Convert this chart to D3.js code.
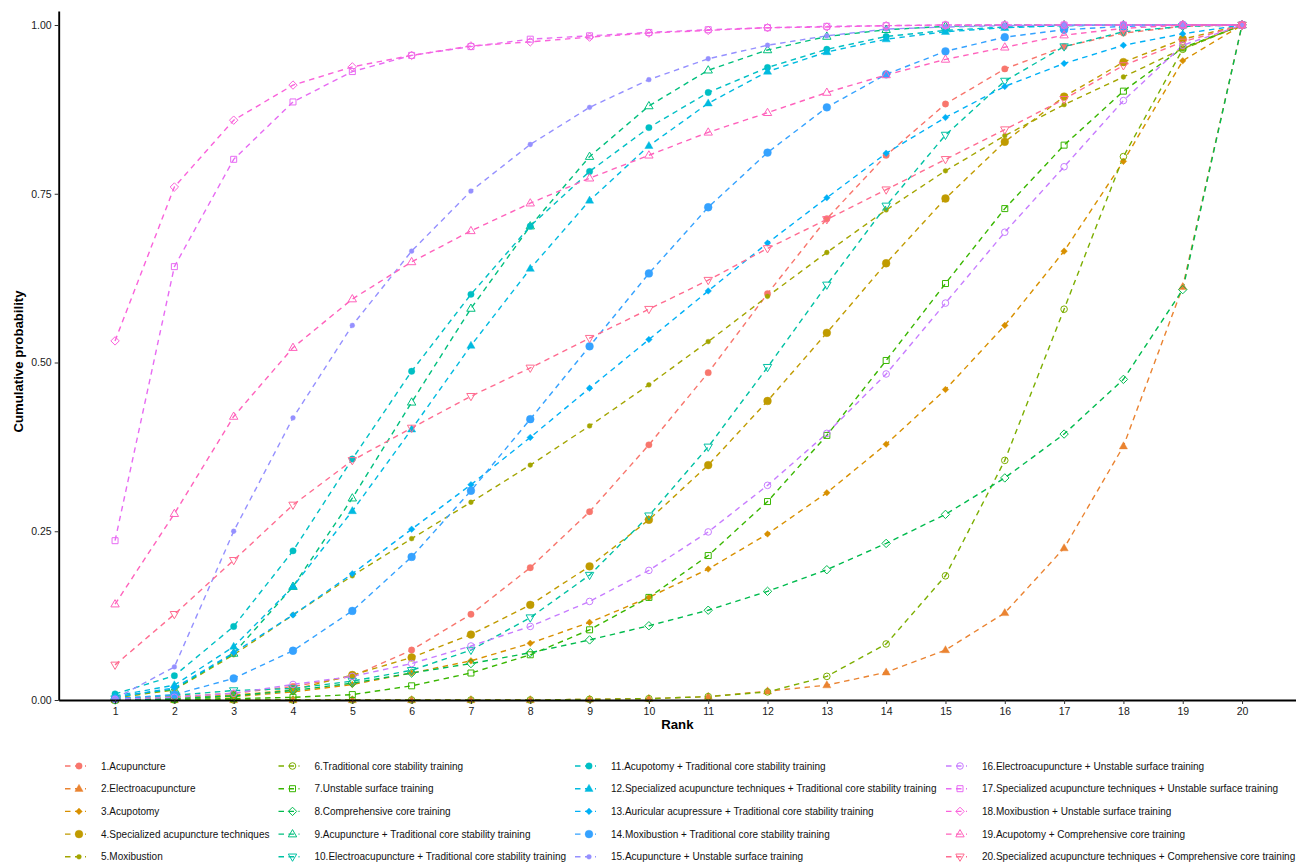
<!DOCTYPE html>
<html>
<head>
<meta charset="utf-8">
<script src="https://cdn.jsdelivr.net/npm/d3@7"></script>
<style>
  body { margin: 0; background: #fff; }
  svg { display: block; font-family: "Liberation Sans", Arial, Helvetica, sans-serif; }
</style>
</head>
<body>
<svg id="chart" width="1296" height="863"></svg>
<script>
// Ranks on the x axis
const ranks = d3.range(1, 21);

// Treatment names (legend order)
const seriesNames = [
  "1.Acupuncture",
  "2.Electroacupuncture",
  "3.Acupotomy",
  "4.Specialized acupuncture techniques",
  "5.Moxibustion",
  "6.Traditional core stability training",
  "7.Unstable surface training",
  "8.Comprehensive core training",
  "9.Acupuncture + Traditional core stability training",
  "10.Electroacupuncture + Traditional core stability training",
  "11.Acupotomy + Traditional core stability training",
  "12.Specialized acupuncture techniques + Traditional core stability training",
  "13.Auricular acupressure + Traditional core stability training",
  "14.Moxibustion + Traditional core stability training",
  "15.Acupuncture + Unstable surface training",
  "16.Electroacupuncture + Unstable surface training",
  "17.Specialized acupuncture techniques + Unstable surface training",
  "18.Moxibustion + Unstable surface training",
  "19.Acupotomy + Comprehensive core training",
  "20.Specialized acupuncture techniques + Comprehensive core training"
];

// Cumulative ranking probabilities, rank 1..20
const s1  = [0.002, 0.005, 0.010, 0.020, 0.035, 0.074, 0.127, 0.196, 0.279, 0.378, 0.485, 0.602, 0.713, 0.807, 0.883, 0.935, 0.968, 0.988, 0.998, 1];
const s2  = [0.000, 0.000, 0.000, 0.000, 0.000, 0.000, 0.000, 0.000, 0.001, 0.002, 0.005, 0.013, 0.022, 0.041, 0.074, 0.129, 0.225, 0.376, 0.612, 1];
const s3  = [0.000, 0.002, 0.005, 0.012, 0.023, 0.040, 0.058, 0.084, 0.115, 0.152, 0.194, 0.246, 0.307, 0.379, 0.460, 0.555, 0.665, 0.798, 0.947, 1];
const s4  = [0.001, 0.004, 0.007, 0.015, 0.037, 0.063, 0.097, 0.141, 0.198, 0.267, 0.348, 0.443, 0.544, 0.647, 0.743, 0.827, 0.894, 0.945, 0.979, 1];
const s5  = [0.003, 0.015, 0.067, 0.126, 0.184, 0.239, 0.293, 0.348, 0.406, 0.467, 0.531, 0.598, 0.663, 0.726, 0.784, 0.836, 0.882, 0.923, 0.965, 1];
const s6  = [0.000, 0.000, 0.000, 0.000, 0.000, 0.000, 0.000, 0.000, 0.001, 0.002, 0.005, 0.012, 0.035, 0.083, 0.184, 0.355, 0.579, 0.805, 0.964, 1];
const s7  = [0.000, 0.001, 0.002, 0.004, 0.008, 0.021, 0.040, 0.067, 0.104, 0.152, 0.214, 0.294, 0.392, 0.503, 0.617, 0.728, 0.822, 0.902, 0.966, 1];
const s8  = [0.000, 0.002, 0.006, 0.014, 0.025, 0.040, 0.054, 0.070, 0.089, 0.110, 0.133, 0.161, 0.193, 0.232, 0.275, 0.329, 0.394, 0.475, 0.608, 1];
const s9  = [0.005, 0.016, 0.069, 0.168, 0.299, 0.441, 0.580, 0.702, 0.805, 0.880, 0.933, 0.963, 0.983, 0.993, 0.998, 1, 1, 1, 1, 1];
const s10 = [0.002, 0.007, 0.014, 0.017, 0.028, 0.044, 0.074, 0.122, 0.185, 0.273, 0.375, 0.493, 0.615, 0.732, 0.837, 0.917, 0.968, 0.990, 0.998, 1];
const s11 = [0.009, 0.036, 0.109, 0.221, 0.357, 0.487, 0.601, 0.702, 0.783, 0.848, 0.900, 0.937, 0.964, 0.983, 0.992, 0.997, 0.999, 1, 1, 1];
const s12 = [0.006, 0.022, 0.079, 0.168, 0.280, 0.401, 0.525, 0.639, 0.740, 0.821, 0.884, 0.931, 0.960, 0.979, 0.990, 0.996, 0.999, 1, 1, 1];
const s13 = [0.004, 0.018, 0.070, 0.126, 0.187, 0.253, 0.319, 0.389, 0.462, 0.534, 0.606, 0.677, 0.744, 0.810, 0.863, 0.909, 0.943, 0.970, 0.987, 1];
const s14 = [0.002, 0.008, 0.032, 0.073, 0.132, 0.212, 0.310, 0.416, 0.524, 0.632, 0.730, 0.811, 0.878, 0.927, 0.961, 0.982, 0.993, 0.998, 1, 1];
const s15 = [0.002, 0.049, 0.250, 0.418, 0.555, 0.665, 0.754, 0.823, 0.878, 0.919, 0.950, 0.970, 0.984, 0.994, 0.997, 0.999, 1, 1, 1, 1];
const s16 = [0.001, 0.004, 0.010, 0.023, 0.035, 0.054, 0.080, 0.109, 0.146, 0.192, 0.249, 0.318, 0.395, 0.483, 0.588, 0.693, 0.790, 0.888, 0.970, 1];
const s17 = [0.236, 0.642, 0.801, 0.886, 0.931, 0.955, 0.968, 0.979, 0.984, 0.989, 0.993, 0.996, 0.998, 0.999, 1, 1, 1, 1, 1, 1];
const s18 = [0.532, 0.760, 0.859, 0.911, 0.938, 0.955, 0.969, 0.975, 0.982, 0.988, 0.992, 0.996, 0.997, 0.999, 1, 1, 1, 1, 1, 1];
const s19 = [0.142, 0.276, 0.420, 0.522, 0.594, 0.649, 0.695, 0.736, 0.773, 0.807, 0.841, 0.870, 0.900, 0.926, 0.949, 0.967, 0.985, 0.995, 1, 1];
const s20 = [0.052, 0.127, 0.207, 0.289, 0.355, 0.403, 0.450, 0.492, 0.536, 0.579, 0.622, 0.669, 0.712, 0.756, 0.801, 0.845, 0.890, 0.940, 0.975, 1];

const seriesValues = [s1, s2, s3, s4, s5, s6, s7, s8, s9, s10, s11, s12, s13, s14, s15, s16, s17, s18, s19, s20];

// Hue palette, one colour per treatment
const seriesColors = [
  "#F8766D", "#EA8331", "#D89000", "#C09B00", "#A3A500",
  "#7CAE00", "#39B600", "#00BB4E", "#00BF7D", "#00C1A3",
  "#00BFC4", "#00BAE0", "#00B0F6", "#35A2FF", "#9590FF",
  "#C77CFF", "#E76BF3", "#FA62DB", "#FF62BC", "#FF6C91"
];

// Point shapes (R pch codes), cycling through ten shapes
const seriesShapes = [16, 17, 18, 19, 20, 1, 0, 5, 2, 6, 16, 17, 18, 19, 20, 1, 0, 5, 2, 6];

const yTicks = [0, 0.25, 0.5, 0.75, 1];
const xTitle = "Rank";
const yTitle = "Cumulative probability";

// ---- layout ----
const svg = d3.select("#chart");
const W = 1296, H = 863;
const panel = { left: 58.7, right: 1298.4, top: 11, bottom: 700 };

const x = d3.scaleLinear().domain([0.05, 20.95]).range([panel.left, panel.right]);
const y = d3.scaleLinear().domain([0, 689 / 675]).range([panel.bottom, panel.top]);

// ---- point shape paths ----
function shapeSpec(code, cx, cy) {
  const tri = (s, down) => {
    const h = s * 0.866;
    const dy = down ? -1 : 1;
    return `M${cx},${cy - dy * h * 0.62}L${cx - s / 2},${cy + dy * h * 0.38}L${cx + s / 2},${cy + dy * h * 0.38}Z`;
  };
  const circ = r => `M${cx - r},${cy}a${r},${r} 0 1,0 ${2 * r},0a${r},${r} 0 1,0 ${-2 * r},0Z`;
  const diam = r => `M${cx},${cy - r}L${cx + r},${cy}L${cx},${cy + r}L${cx - r},${cy}Z`;
  switch (code) {
    case 16: return { d: circ(3.2), filled: true };
    case 17: return { d: tri(8.2, false), filled: true };
    case 18: return { d: diam(3.3), filled: true };
    case 19: return { d: circ(3.9), filled: true };
    case 20: return { d: circ(2.4), filled: true };
    case 1:  return { d: circ(3.3), filled: false };
    case 0:  return { d: `M${cx - 3},${cy - 3}h6v6h-6Z`, filled: false };
    case 5:  return { d: diam(4.2), filled: false };
    case 2:  return { d: tri(8.4, false), filled: false };
    case 6:  return { d: tri(8.4, true), filled: false };
  }
}

function drawPoint(g, code, color, cx, cy) {
  const spec = shapeSpec(code, cx, cy);
  g.append("path")
    .attr("d", spec.d)
    .attr("fill", spec.filled ? color : "none")
    .attr("stroke", color)
    .attr("stroke-width", spec.filled ? 0.4 : 1)
    .attr("stroke-linejoin", "miter");
}

const DASH = "5.5,4.5";

// ---- series data ----
const series = seriesValues.map((vals, i) => ({
  name: seriesNames[i],
  color: seriesColors[i],
  shape: seriesShapes[i],
  points: vals.map((v, j) => ({ rank: ranks[j], value: v }))
}));

const plot = svg.append("g");

// lines (all series), then points
const line = d3.line().x(d => x(d.rank)).y(d => y(d.value));
plot.append("g").selectAll("path")
  .data(series)
  .join("path")
  .attr("d", d => line(d.points))
  .attr("fill", "none")
  .attr("stroke", d => d.color)
  .attr("stroke-width", 1.4)
  .attr("stroke-dasharray", DASH);

const pts = plot.append("g");
series.forEach(s => {
  s.points.forEach(p => drawPoint(pts, s.shape, s.color, x(p.rank), y(p.value)));
});

// ---- axes ----
const xAxis = d3.axisBottom(x).tickValues(ranks).tickFormat(d3.format("d")).tickSize(4).tickSizeOuter(0);
const yAxis = d3.axisLeft(y).tickValues(yTicks).tickFormat(d3.format(".2f")).tickSize(4).tickSizeOuter(0);

const gx = svg.append("g").attr("transform", `translate(0,${panel.bottom})`).call(xAxis);
const gy = svg.append("g").attr("transform", `translate(${panel.left},0)`).call(yAxis);

[gx, gy].forEach(g => {
  g.select(".domain").attr("stroke", "#000").attr("stroke-width", 1.9);
  g.selectAll(".tick line").attr("stroke", "#333").attr("stroke-width", 1);
  g.selectAll(".tick text").attr("fill", "#1a1a1a").style("font-size", "10.5px")
    .style("font-family", "'Liberation Sans', Arial, sans-serif");
});
gx.selectAll(".tick text").attr("dy", "0.72em").attr("y", 7);
gy.selectAll(".tick text").attr("x", -7);

// axis titles
svg.append("text")
  .attr("x", (panel.left + W) / 2)
  .attr("y", 729)
  .attr("text-anchor", "middle")
  .style("font-size", "13.2px")
  .style("font-weight", "bold")
  .text(xTitle);

svg.append("text")
  .attr("transform", `translate(23,${(panel.top + panel.bottom) / 2 + 6}) rotate(-90)`)
  .attr("text-anchor", "middle")
  .style("font-size", "13.2px")
  .style("font-weight", "bold")
  .text(yTitle);

// ---- legend: 4 columns x 5 rows ----
const legendColX = [79, 292.5, 589, 960];
const legendRowY = [766, 788.7, 811.4, 834.1, 856.8];
const legend = svg.append("g");
series.forEach((s, i) => {
  const col = Math.floor(i / 5), row = i % 5;
  const cx = legendColX[col], cy = legendRowY[row];
  legend.append("line")
    .attr("x1", cx - 14).attr("x2", cx + 7)
    .attr("y1", cy).attr("y2", cy)
    .attr("stroke", s.color)
    .attr("stroke-width", 1.4)
    .attr("stroke-dasharray", DASH);
  drawPoint(legend, s.shape, s.color, cx, cy);
  legend.append("text")
    .attr("x", cx + 22)
    .attr("y", cy)
    .attr("dy", "0.35em")
    .style("font-size", "10px")
    .attr("fill", "#111")
    .text(s.name);
});
</script>
</body>
</html>
